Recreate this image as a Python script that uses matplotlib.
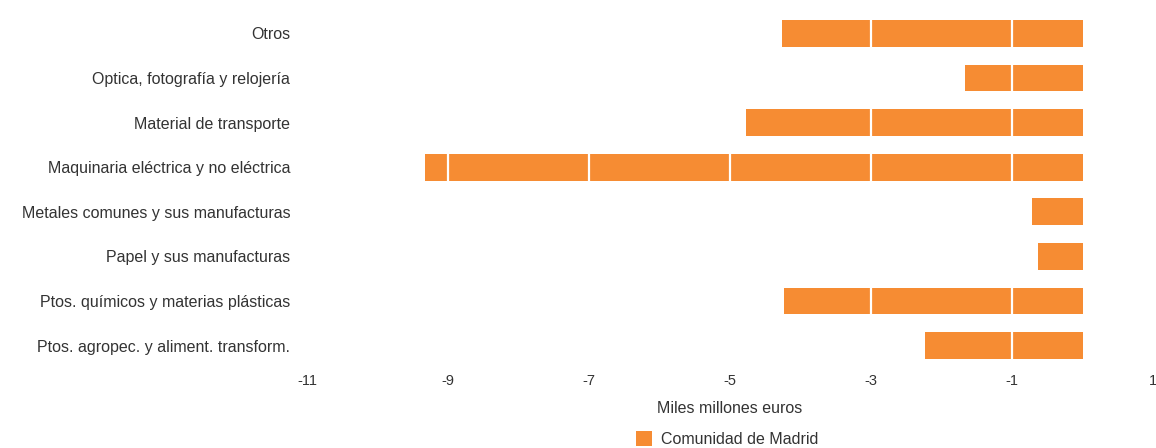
import matplotlib.pyplot as plt
from matplotlib.patches import Patch

plt.rcParams["font.family"] = ["Liberation Sans", "DejaVu Sans"]

categorias = [
    "Ptos. agropec. y aliment. transform.",
    "Ptos. químicos y materias plásticas",
    "Papel y sus manufacturas",
    "Metales comunes y sus manufacturas",
    "Maquinaria eléctrica y no eléctrica",
    "Material de transporte",
    "Optica, fotografía y relojería",
    "Otros",
]
saldo = [-2.24, -4.24, -0.63, -0.72, -9.32, -4.77, -1.67, -4.26]
ticks_x = [-11, -9, -7, -5, -3, -1, 1]

naranja = "#F68C33"
texto = "#333333"

fig = plt.figure(figsize=(11.56, 4.48), dpi=100)
ax = fig.add_axes([307 / 1156, 1 - 368 / 448, 846 / 1156, 357 / 448])

ax.barh(range(len(categorias)), saldo, height=0.6, color=naranja, zorder=1)

ax.set_xlim(-11, 1)
ax.set_ylim(-0.5, len(categorias) - 0.5)
ax.set_xticks(ticks_x)
ax.set_xticklabels([str(t) for t in ticks_x], color=texto, fontsize=10.5)
ax.set_yticks(range(len(categorias)))
ax.set_yticklabels(categorias, color=texto, fontsize=11.5)
ax.tick_params(length=0)
ax.tick_params(axis="y", pad=12)
ax.tick_params(axis="x", pad=4)

for t in ticks_x:
    ax.axvline(t, color="white", linewidth=1.6, zorder=2)

for s in ax.spines.values():
    s.set_visible(False)

ax.set_xlabel("Miles millones euros", color=texto, fontsize=11.5, labelpad=10)

fig.legend(handles=[Patch(facecolor=naranja, label="Comunidad de Madrid")],
           loc="lower center", bbox_to_anchor=(727 / 1156, -0.03), frameon=False,
           fontsize=11.5, handlelength=1.0, handleheight=1.0, handletextpad=0.6,
           labelcolor=texto)

fig.savefig("out.png", dpi=100)
